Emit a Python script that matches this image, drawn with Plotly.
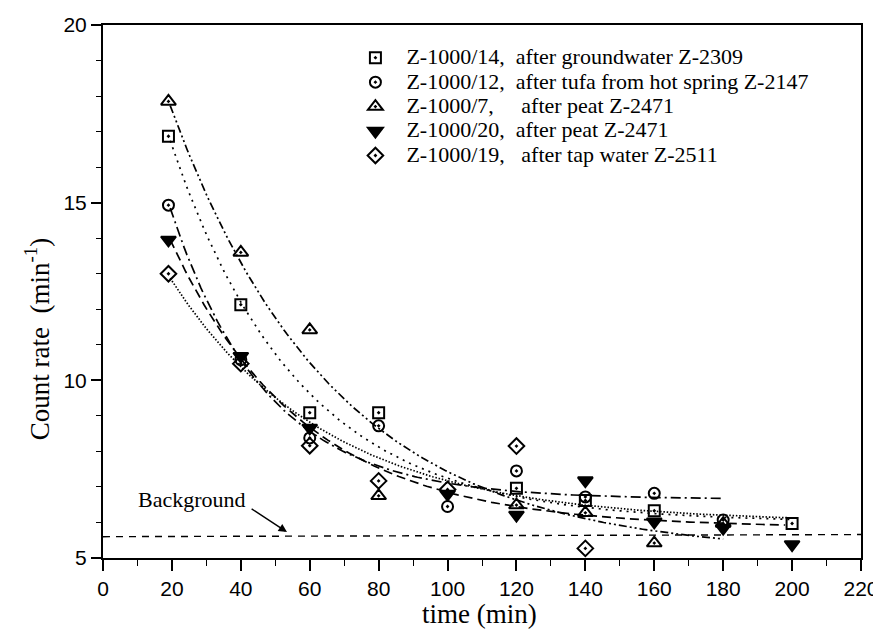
import numpy as np
import plotly.graph_objects as go

# ---- data ----
sq_t = [19, 40, 60, 80, 120, 140, 160, 200]
sq_y = [16.87, 12.13, 9.09, 9.09, 6.96, 6.62, 6.33, 5.97]

ci_t = [19, 40, 60, 80, 100, 120, 140, 160, 180]
ci_y = [14.93, 10.58, 8.38, 8.72, 6.45, 7.45, 6.72, 6.82, 6.07]

tr_t = [19, 40, 60, 80, 120, 140, 160, 180]
tr_y = [17.85, 13.6, 11.42, 6.75, 6.49, 6.27, 5.42, 5.97]

it_t = [19, 40, 60, 100, 120, 140, 160, 180, 200]
it_y = [13.95, 10.68, 8.66, 6.8, 6.21, 7.18, 6.02, 5.84, 5.38]

di_t = [19, 40, 60, 80, 100, 120, 140]
di_y = [13.0, 10.47, 8.16, 7.17, 6.93, 8.15, 5.27]

labels = [
    "Z-1000/14,\u00a0 after groundwater Z-2309",
    "Z-1000/12,\u00a0 after tufa from hot spring Z-2147",
    "Z-1000/7,\u00a0\u00a0\u00a0\u00a0 after peat Z-2471",
    "Z-1000/20,\u00a0 after peat Z-2471",
    "Z-1000/19,\u00a0\u00a0 after tap water Z-2511",
]

# exponential fit parameters: y = a + b*exp(-k*(t-20)), drawn over [t0, t1]
fit_a = [6.0, 6.65, 5.1, 5.85, 6.0]
fit_b = [10.6, 8.05, 12.5, 8.0, 6.8]
fit_k = [0.0268, 0.0359, 0.021, 0.026, 0.022]
fit_t0 = [19.5, 19.5, 19.5, 19.5, 19.5]
fit_t1 = [200, 180, 180, 198, 200]

bg_t = [0, 220]
bg_y = [5.6, 5.66]

xticks = [0, 20, 40, 60, 80, 100, 120, 140, 160, 180, 200, 220]
yticks = [5, 10, 15, 20]

# ---- styles ----
symbols = ["square-open-dot", "circle-open-dot", "triangle-up-open-dot",
           "triangle-down", "diamond-open-dot"]
msizes = [11, 11, 13, 13, 12]
dashes = ["2px,5px", "10px,4px,2px,4px", "8px,3px,2px,3px,2px,3px",
          "9px,5px", "1.5px,1.8px"]

series = [(sq_t, sq_y), (ci_t, ci_y), (tr_t, tr_y), (it_t, it_y), (di_t, di_y)]

fig = go.Figure()

# fitted curves
for i in range(5):
    t = np.linspace(fit_t0[i], fit_t1[i], 200)
    y = fit_a[i] + fit_b[i] * np.exp(-fit_k[i] * (t - 20))
    fig.add_trace(go.Scatter(x=t, y=y, mode="lines", showlegend=False,
                             line=dict(color="black", width=1.7, dash=dashes[i]),
                             hoverinfo="skip"))

# background line
fig.add_trace(go.Scatter(x=bg_t, y=bg_y, mode="lines", showlegend=False,
                         line=dict(color="black", width=1.4, dash="7px,6px")))

# data points
for i, (t, y) in enumerate(series):
    fig.add_trace(go.Scatter(
        x=t, y=y, mode="markers",
        name="<span style='font-size:22px'>\u00a0\u00a0" + labels[i] + "</span>",
        marker=dict(symbol=symbols[i], size=msizes[i], color="black",
                    line=dict(color="black", width=2)),
    ))

fig.add_annotation(x=25.8, y=6.66, xref="x", yref="y", text="Background",
                   showarrow=False, xanchor="center", yanchor="middle",
                   font=dict(family="Liberation Serif", size=22, color="black"))
fig.add_annotation(x=53.4, y=5.73, xref="x", yref="y", ax=42.7, ay=6.41,
                   axref="x", ayref="y", text="", showarrow=True,
                   arrowhead=2, arrowsize=1.2, arrowwidth=1.4, arrowcolor="black",
                   standoff=0)

# axis titles as annotations (positions as in reference)
fig.add_annotation(x=-0.086, y=0.41, xref="paper", yref="paper",
                   xanchor="center", yanchor="middle",
                   text="Count rate\u00a0 (min<sup>-1</sup>)", textangle=-90,
                   showarrow=False,
                   font=dict(family="Liberation Serif", size=27, color="black"))
fig.add_annotation(x=0.497, y=-0.106, xref="paper", yref="paper",
                   xanchor="center", yanchor="middle",
                   text="time (min)", showarrow=False,
                   font=dict(family="Liberation Serif", size=27, color="black"))

tickfont = dict(family="Liberation Sans", size=21, color="black")

fig.update_xaxes(range=[0, 220], tickvals=xticks, ticks="outside", ticklen=11,
                 tickwidth=1.6, tickcolor="black", showline=True, linewidth=2,
                 linecolor="black", mirror=True, showgrid=False, zeroline=False,
                 tickfont=tickfont, automargin=False,
                 minor=dict(dtick=10, ticks="outside", ticklen=6, tickwidth=1.4,
                            tickcolor="black", showgrid=False))
fig.update_yaxes(range=[5, 20], tickvals=yticks, ticks="outside", ticklen=10,
                 tickwidth=1.6, tickcolor="black", showline=True, linewidth=2,
                 linecolor="black", mirror=True, showgrid=False, zeroline=False,
                 tickfont=tickfont, automargin=False,
                 minor=dict(dtick=1, ticks="outside", ticklen=5, tickwidth=1.4,
                            tickcolor="black", showgrid=False))

# the page body adds an 8px offset, so the figure is 873x628
fig.update_layout(
    width=873, height=628,
    margin=dict(l=95, r=20, t=17, b=78, autoexpand=False),
    paper_bgcolor="white", plot_bgcolor="white",
    legend=dict(x=0.333, y=0.971, xanchor="left", yanchor="top",
                bgcolor="rgba(0,0,0,0)",
                font=dict(family="Liberation Serif", size=16.5, color="black"),
                tracegroupgap=0),
    showlegend=True,
)

fig.write_html("out.html")
